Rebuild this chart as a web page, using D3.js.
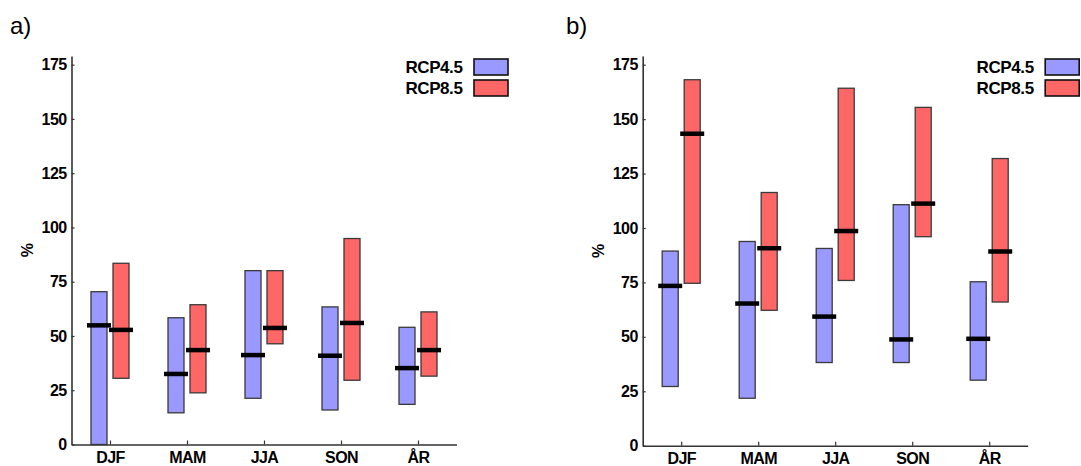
<!DOCTYPE html>
<html>
<head>
<meta charset="utf-8">
<script src="https://cdn.jsdelivr.net/npm/d3@7"></script>
<style>
  body { margin: 0; background: #fff; }
  text { font-family: "Liberation Sans", Arial, sans-serif; }
</style>
</head>
<body>
<div id="chart"></div>
<script>
// categories and series
const seasons = ['DJF', 'MAM', 'JJA', 'SON', 'ÅR']
const scenarios = ['RCP4.5', 'RCP8.5']
const yTicks = [0, 25, 50, 75, 100, 125, 150, 175]

// panel a) - range low/high and median, %
const aLow45  = [0, 14.6, 21.3, 15.9, 18.5]
const aHigh45 = [70.4, 58.4, 80.1, 63.4, 54.0]
const aMed45  = [54.9, 32.5, 41.2, 40.9, 35.2]
const aLow85  = [30.5, 23.8, 46.4, 29.6, 31.5]
const aHigh85 = [83.5, 64.4, 80.1, 94.9, 61.1]
const aMed85  = [52.8, 43.5, 53.7, 56.0, 43.5]

// panel b)
const bLow45  = [27.2, 21.8, 38.2, 38.2, 30.1]
const bHigh45 = [89.4, 93.8, 90.6, 110.7, 75.3]
const bMed45  = [73.4, 65.3, 59.3, 48.8, 49.1]
const bLow85  = [74.6, 62.2, 75.9, 96.0, 66.0]
const bHigh85 = [168.1, 116.3, 164.2, 155.4, 131.9]
const bMed85  = [143.3, 90.7, 98.6, 111.2, 89.2]

const colors = { 'RCP4.5': '#9999ff', 'RCP8.5': '#ff6666' }

let width = 1081
let height = 466

let svg = d3.select('#chart')
            .append('svg')
            .attr('width', width)
            .attr('height', height)

const drawPanel = (label, labelX, left, bottom, series) => {
    let g = svg.append('g').attr('transform', `translate(${left},0)`)

    let x = d3.scalePoint().domain(seasons).range([0, 385]).padding(0.5)
    let y = d3.scaleLinear().domain([0, 179]).range([bottom, 56])
    // two bars side by side around each tick
    let sub = d3.scaleBand().domain(scenarios).range([-19, 19]).paddingInner(6 / 22)

    // bars
    series.forEach(s => {
        g.append('g')
            .selectAll('rect')
            .data(seasons)
            .enter()
            .append('rect')
            .attr('x', (d, i) => x(d) + sub(s.name))
            .attr('width', sub.bandwidth())
            .attr('y', (d, i) => y(s.high[i]))
            .attr('height', (d, i) => y(s.low[i]) - y(s.high[i]))
            .attr('fill', colors[s.name])
            .attr('stroke', '#3a3a3a')
            .attr('stroke-width', 1.3)
    })

    // medians
    series.forEach(s => {
        g.append('g')
            .selectAll('line')
            .data(seasons)
            .enter()
            .append('line')
            .attr('x1', d => x(d) + sub(s.name) + sub.bandwidth() / 2 - 12)
            .attr('x2', d => x(d) + sub(s.name) + sub.bandwidth() / 2 + 12)
            .attr('y1', (d, i) => y(s.med[i]))
            .attr('y2', (d, i) => y(s.med[i]))
            .attr('stroke', '#000')
            .attr('stroke-width', 4.5)
    })

    // axes
    let yAxis = g.append('g')
        .call(d3.axisLeft(y).tickValues(yTicks).tickSize(-3).tickSizeOuter(0).tickPadding(5))
    let xAxis = g.append('g')
        .attr('transform', `translate(0,${bottom})`)
        .call(d3.axisBottom(x).tickSize(-4).tickSizeOuter(0).tickPadding(7))

    ;[yAxis, xAxis].forEach(a => {
        a.select('.domain').attr('stroke', '#333').attr('stroke-width', 1.6)
        a.selectAll('.tick line').attr('stroke', '#333').attr('stroke-width', 1.2)
        a.selectAll('.tick text')
            .attr('fill', '#000')
            .attr('font-size', 16)
            .attr('font-weight', 'bold')
            .attr('letter-spacing', -0.6)
            .style('font-family', '"Liberation Sans", Arial, sans-serif')
    })

    // y label
    g.append('text')
        .attr('transform', `translate(-39,${(bottom + 56) / 2}) rotate(-90)`)
        .attr('text-anchor', 'middle')
        .attr('font-size', 16)
        .attr('font-weight', 'bold')
        .text('%')

    // legend
    let legend = g.append('g')
        .selectAll('g')
        .data(scenarios)
        .enter()
        .append('g')
        .attr('transform', (d, i) => `translate(0,${i * 21})`)
    legend.append('rect')
        .attr('x', 402.5)
        .attr('y', 59)
        .attr('width', 34)
        .attr('height', 16)
        .attr('fill', d => colors[d])
        .attr('stroke', '#111')
        .attr('stroke-width', 1.6)
    legend.append('text')
        .attr('x', 391)
        .attr('y', 73)
        .attr('text-anchor', 'end')
        .attr('font-size', 17)
        .attr('font-weight', 'bold')
        .attr('letter-spacing', -0.4)
        .text(d => d)

    // panel label
    svg.append('text')
        .attr('x', labelX)
        .attr('y', 34)
        .attr('font-size', 24)
        .text(label)
}

drawPanel('a)', 10, 71.5, 444.5, [
    { name: 'RCP4.5', low: aLow45, high: aHigh45, med: aMed45 },
    { name: 'RCP8.5', low: aLow85, high: aHigh85, med: aMed85 }
])
drawPanel('b)', 566, 642.7, 445.7, [
    { name: 'RCP4.5', low: bLow45, high: bHigh45, med: bMed45 },
    { name: 'RCP8.5', low: bLow85, high: bHigh85, med: bMed85 }
])
</script>
</body>
</html>
